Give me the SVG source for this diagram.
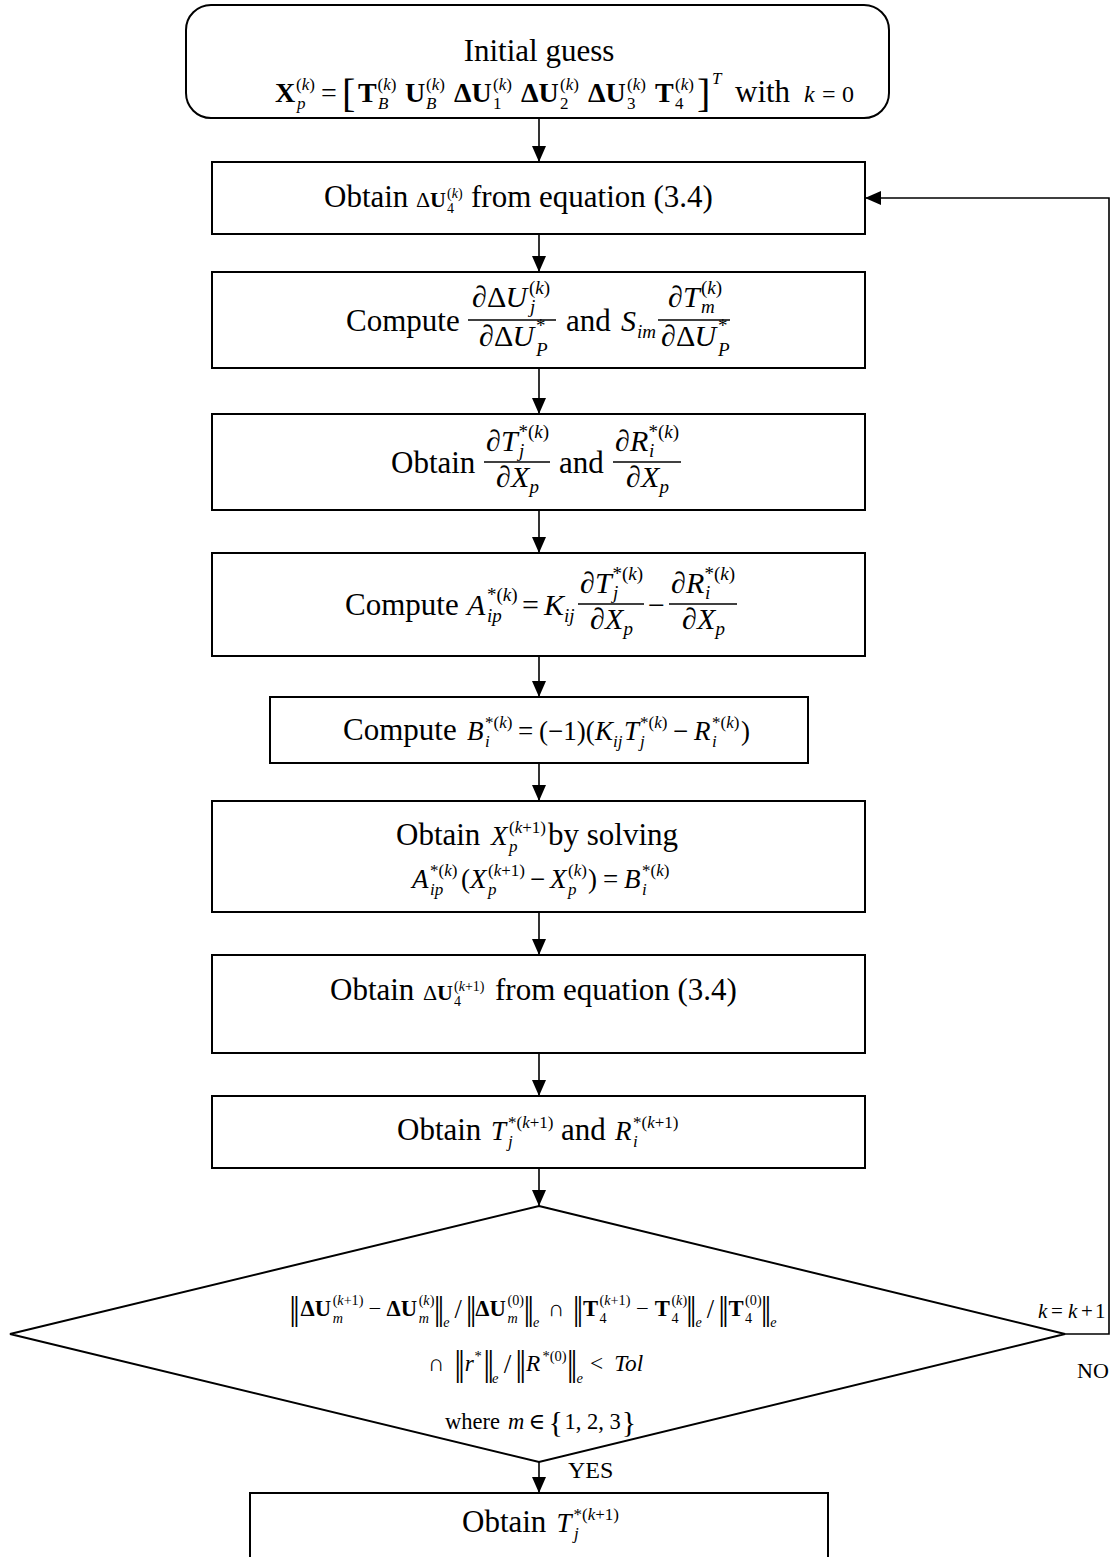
<svg xmlns="http://www.w3.org/2000/svg" width="1117" height="1557" viewBox="0 0 1117 1557" font-family="Liberation Serif, serif">
<style>
text{font-family:"Liberation Serif","DejaVu Serif",serif;fill:#000}
.box{fill:#fff;stroke:#000;stroke-width:2}
.edge{fill:none;stroke:#000;stroke-width:1.6}
.bar{fill:none;stroke:#000;stroke-width:1.3}
.i{font-style:italic}
.n{font-style:normal}
.b{font-weight:bold}
.s40{font-size:40px}.s36{font-size:36px}.s32{font-size:32px}.s31{font-size:31px}.s30{font-size:30px}
.s28{font-size:28px}.s27{font-size:27px}.s24{font-size:24px}.s22{font-size:22px}.s21{font-size:21px}
.s19{font-size:19px}.s17{font-size:17px}.s15{font-size:15px}.s14{font-size:14px}
</style>
<defs>
<marker id="ah" markerWidth="16" markerHeight="14" refX="16" refY="7" orient="auto" markerUnits="userSpaceOnUse">
<path d="M0,0 L16,7 L0,14 z" fill="#000"/>
</marker>
</defs>

<!-- connectors -->
<g id="edges">
<line class="edge" x1="539" y1="118" x2="539" y2="162" marker-end="url(#ah)"/>
<line class="edge" x1="539" y1="234" x2="539" y2="272" marker-end="url(#ah)"/>
<line class="edge" x1="539" y1="368" x2="539" y2="414" marker-end="url(#ah)"/>
<line class="edge" x1="539" y1="510" x2="539" y2="553" marker-end="url(#ah)"/>
<line class="edge" x1="539" y1="656" x2="539" y2="697" marker-end="url(#ah)"/>
<line class="edge" x1="539" y1="763" x2="539" y2="801" marker-end="url(#ah)"/>
<line class="edge" x1="539" y1="912" x2="539" y2="955" marker-end="url(#ah)"/>
<line class="edge" x1="539" y1="1053" x2="539" y2="1096" marker-end="url(#ah)"/>
<line class="edge" x1="539" y1="1168" x2="539" y2="1206" marker-end="url(#ah)"/>
<line class="edge" x1="539" y1="1462" x2="539" y2="1493" marker-end="url(#ah)"/>
<path class="edge" d="M1065,1334 H1109 V198 H865" marker-end="url(#ah)"/>
<text class="s24" x="568" y="1478">YES</text>
<text class="s22" x="1077" y="1378">NO</text>
<text class="s21"><tspan class="i" x="1038" y="1318">k</tspan><tspan x="1051" y="1318">=</tspan><tspan class="i" x="1068" y="1318">k</tspan><tspan x="1081" y="1318">+</tspan><tspan x="1095" y="1318">1</tspan></text>
</g>

<!-- initial guess -->
<g id="n-start">
<rect class="box" x="186" y="5" width="703" height="113" rx="25"/>
<text class="s31" x="539" y="61" text-anchor="middle">Initial guess</text>
<text class="s28">
<tspan class="b" x="275" y="102">X</tspan>
<tspan class="s17" x="296" y="90">(<tspan class="i">k</tspan>)</tspan>
<tspan class="s17 i" x="297" y="109">p</tspan>
<tspan x="321" y="102">=</tspan>
<tspan class="s40" x="342" y="107">[</tspan>
<tspan class="b" x="358" y="102">T</tspan>
<tspan class="s17" x="377.5" y="90">(<tspan class="i">k</tspan>)</tspan>
<tspan class="s17 i" x="378" y="109">B</tspan>
<tspan class="b" x="405" y="102">U</tspan>
<tspan class="s17" x="426" y="90">(<tspan class="i">k</tspan>)</tspan>
<tspan class="s17 i" x="426" y="109">B</tspan>
<tspan class="b" x="454" y="102">ΔU</tspan>
<tspan class="s17" x="493" y="90">(<tspan class="i">k</tspan>)</tspan>
<tspan class="s17" x="493" y="109">1</tspan>
<tspan class="b" x="521" y="102">ΔU</tspan>
<tspan class="s17" x="560" y="90">(<tspan class="i">k</tspan>)</tspan>
<tspan class="s17" x="560" y="109">2</tspan>
<tspan class="b" x="588" y="102">ΔU</tspan>
<tspan class="s17" x="627" y="90">(<tspan class="i">k</tspan>)</tspan>
<tspan class="s17" x="627" y="109">3</tspan>
<tspan class="b" x="655" y="102">T</tspan>
<tspan class="s17" x="675" y="90">(<tspan class="i">k</tspan>)</tspan>
<tspan class="s17" x="675" y="109">4</tspan>
<tspan class="s40" x="697" y="107">]</tspan>
<tspan class="s17 i" x="712" y="84">T</tspan>
<tspan class="s31" x="735" y="102">with</tspan>
<tspan class="s24 i" x="804" y="102">k</tspan>
<tspan class="s24" x="822" y="102">=</tspan>
<tspan class="s24" x="842" y="102">0</tspan>
</text>
</g>

<!-- obtain delta U4 -->
<g id="n-obtain-du4">
<rect class="box" x="212" y="162" width="653" height="72"/>
<text class="s31" x="324" y="207">Obtain</text>
<text class="s22">
<tspan x="416" y="207">Δ</tspan><tspan class="b" x="430" y="207">U</tspan>
<tspan class="s14" x="447" y="198">(<tspan class="i">k</tspan>)</tspan>
<tspan class="s14" x="447" y="213">4</tspan>
</text>
<text class="s31" x="471" y="207">from equation (3.4)</text>
</g>

<!-- sensitivities -->
<g id="n-sens">
<rect class="box" x="212" y="272" width="653" height="96"/>
<text class="s31" x="346" y="331">Compute</text>
<text class="s31" x="566" y="331">and</text>
<line class="bar" x1="468" y1="320" x2="556" y2="320"/>
<line class="bar" x1="658" y1="320" x2="730" y2="320"/>
<text class="s30 i">
<tspan x="472" y="307">∂</tspan><tspan class="n" x="487" y="307">Δ</tspan><tspan x="505.5" y="307">U</tspan>
<tspan class="s19" x="529" y="294"><tspan class="n">(</tspan>k<tspan class="n">)</tspan></tspan>
<tspan class="s19" x="530" y="313">j</tspan>
<tspan x="479" y="346">∂</tspan><tspan class="n" x="494" y="346">Δ</tspan><tspan x="512.5" y="346">U</tspan>
<tspan class="s19 n" x="536" y="332">*</tspan><tspan class="s19" x="536" y="356">P</tspan>
<tspan x="621" y="331">S</tspan><tspan class="s19" x="637" y="338">im</tspan>
<tspan x="668" y="307">∂</tspan><tspan x="683" y="307">T</tspan>
<tspan class="s19" x="701" y="294"><tspan class="n">(</tspan>k<tspan class="n">)</tspan></tspan>
<tspan class="s19" x="701" y="313">m</tspan>
<tspan x="661" y="346">∂</tspan><tspan class="n" x="676" y="346">Δ</tspan><tspan x="694.5" y="346">U</tspan>
<tspan class="s19 n" x="718" y="332">*</tspan><tspan class="s19" x="718" y="356">P</tspan>
</text>
</g>

<!-- derivatives of T and R -->
<g id="n-deriv">
<rect class="box" x="212" y="414" width="653" height="96"/>
<text class="s31" x="391" y="473">Obtain</text>
<text class="s31" x="559" y="473">and</text>
<line class="bar" x1="484" y1="462" x2="550" y2="462"/>
<line class="bar" x1="613" y1="462" x2="681" y2="462"/>
<text class="s30 i">
<tspan x="486" y="451">∂</tspan><tspan x="501" y="451">T</tspan>
<tspan class="s19" x="518.5" y="438"><tspan class="n">*(</tspan>k<tspan class="n">)</tspan></tspan>
<tspan class="s19" x="519" y="457">j</tspan>
<tspan x="496" y="487">∂</tspan><tspan x="511" y="487">X</tspan><tspan class="s19" x="529.5" y="493">p</tspan>
<tspan x="615" y="451">∂</tspan><tspan x="630" y="451">R</tspan>
<tspan class="s19" x="648.5" y="438"><tspan class="n">*(</tspan>k<tspan class="n">)</tspan></tspan>
<tspan class="s19" x="649" y="457">i</tspan>
<tspan x="626" y="487">∂</tspan><tspan x="641" y="487">X</tspan><tspan class="s19" x="659.5" y="493">p</tspan>
</text>
</g>

<!-- matrix A -->
<g id="n-amatrix">
<rect class="box" x="212" y="553" width="653" height="103"/>
<text class="s31" x="345" y="615">Compute</text>
<line class="bar" x1="578" y1="604" x2="644" y2="604"/>
<line class="bar" x1="669" y1="604" x2="737" y2="604"/>
<text class="s30 i">
<tspan x="467" y="615">A</tspan>
<tspan class="s19" x="487" y="601"><tspan class="n">*(</tspan>k<tspan class="n">)</tspan></tspan>
<tspan class="s19" x="487" y="622">ip</tspan>
<tspan class="n" x="522" y="615">=</tspan>
<tspan x="544" y="615">K</tspan><tspan class="s19" x="564" y="622">ij</tspan>
<tspan x="580" y="593">∂</tspan><tspan x="595" y="593">T</tspan>
<tspan class="s19" x="612.5" y="580"><tspan class="n">*(</tspan>k<tspan class="n">)</tspan></tspan>
<tspan class="s19" x="613" y="599">j</tspan>
<tspan x="590" y="629">∂</tspan><tspan x="605" y="629">X</tspan><tspan class="s19" x="623.5" y="635">p</tspan>
<tspan class="n" x="648" y="615">−</tspan>
<tspan x="671" y="593">∂</tspan><tspan x="686" y="593">R</tspan>
<tspan class="s19" x="704.5" y="580"><tspan class="n">*(</tspan>k<tspan class="n">)</tspan></tspan>
<tspan class="s19" x="705" y="599">i</tspan>
<tspan x="682" y="629">∂</tspan><tspan x="697" y="629">X</tspan><tspan class="s19" x="715.5" y="635">p</tspan>
</text>
</g>

<!-- vector B -->
<g id="n-bvector">
<rect class="box" x="270" y="697" width="538" height="66"/>
<text class="s31" x="343" y="740">Compute</text>
<text class="s27 i">
<tspan x="467" y="740">B</tspan>
<tspan class="s17" x="485" y="728"><tspan class="n">*(</tspan>k<tspan class="n">)</tspan></tspan>
<tspan class="s17" x="485" y="747">i</tspan>
<tspan class="n" x="518" y="740">=</tspan>
<tspan class="n" x="539" y="740">(−1)(</tspan>
<tspan x="595" y="740">K</tspan><tspan class="s17" x="613" y="747">ij</tspan>
<tspan x="624" y="740">T</tspan>
<tspan class="s17" x="640" y="728"><tspan class="n">*(</tspan>k<tspan class="n">)</tspan></tspan>
<tspan class="s17" x="640" y="747">j</tspan>
<tspan class="n" x="673" y="740">−</tspan>
<tspan x="694" y="740">R</tspan>
<tspan class="s17" x="712" y="728"><tspan class="n">*(</tspan>k<tspan class="n">)</tspan></tspan>
<tspan class="s17" x="712" y="747">i</tspan>
<tspan class="n" x="741" y="740">)</tspan>
</text>
</g>

<!-- solve for X -->
<g id="n-solve">
<rect class="box" x="212" y="801" width="653" height="111"/>
<text class="s31" x="396" y="845">Obtain</text>
<text class="s31" x="548" y="845">by solving</text>
<text class="s27 i">
<tspan x="491" y="845">X</tspan>
<tspan class="s17" x="509" y="833"><tspan class="n">(</tspan>k<tspan class="n">+1)</tspan></tspan>
<tspan class="s17" x="509" y="852">p</tspan>
<tspan x="412" y="888">A</tspan>
<tspan class="s17" x="430" y="876"><tspan class="n">*(</tspan>k<tspan class="n">)</tspan></tspan>
<tspan class="s17" x="430" y="895">ip</tspan>
<tspan class="n" x="461" y="888">(</tspan>
<tspan x="470" y="888">X</tspan>
<tspan class="s17" x="488" y="876"><tspan class="n">(</tspan>k<tspan class="n">+1)</tspan></tspan>
<tspan class="s17" x="488" y="895">p</tspan>
<tspan class="n" x="530" y="888">−</tspan>
<tspan x="550" y="888">X</tspan>
<tspan class="s17" x="568" y="876"><tspan class="n">(</tspan>k<tspan class="n">)</tspan></tspan>
<tspan class="s17" x="568" y="895">p</tspan>
<tspan class="n" x="588" y="888">)</tspan>
<tspan class="n" x="603" y="888">=</tspan>
<tspan x="624" y="888">B</tspan>
<tspan class="s17" x="642" y="876"><tspan class="n">*(</tspan>k<tspan class="n">)</tspan></tspan>
<tspan class="s17" x="642" y="895">i</tspan>
</text>
</g>

<!-- update delta U4 -->
<g id="n-update-du4">
<rect class="box" x="212" y="955" width="653" height="98"/>
<text class="s31" x="330" y="1000">Obtain</text>
<text class="s22">
<tspan x="423" y="1000">Δ</tspan><tspan class="b" x="437" y="1000">U</tspan>
<tspan class="s14" x="454" y="991">(<tspan class="i">k</tspan>+1)</tspan>
<tspan class="s14" x="454" y="1006">4</tspan>
</text>
<text class="s31" x="495" y="1000">from equation (3.4)</text>
</g>

<!-- update T and R -->
<g id="n-update-tr">
<rect class="box" x="212" y="1096" width="653" height="72"/>
<text class="s31" x="397" y="1140">Obtain</text>
<text class="s31" x="561" y="1140">and</text>
<text class="s27 i">
<tspan x="491" y="1140">T</tspan>
<tspan class="s17" x="508" y="1128"><tspan class="n">*(</tspan>k<tspan class="n">+1)</tspan></tspan>
<tspan class="s17" x="508" y="1147">j</tspan>
<tspan x="615" y="1140">R</tspan>
<tspan class="s17" x="633" y="1128"><tspan class="n">*(</tspan>k<tspan class="n">+1)</tspan></tspan>
<tspan class="s17" x="633" y="1147">i</tspan>
</text>
</g>

<!-- convergence test -->
<g id="n-converge">
<polygon class="box" points="539,1206 1065,1334 539,1462 10,1334"/>
<g transform="translate(292,1316) scale(0.945)">
<text class="s36"><tspan x="-3" y="4">|</tspan><tspan x="1" y="4">|</tspan><tspan x="150" y="4">|</tspan><tspan x="154" y="4">|</tspan><tspan x="184" y="4">|</tspan><tspan x="188" y="4">|</tspan><tspan x="245" y="4">|</tspan><tspan x="249" y="4">|</tspan><tspan x="297" y="4">|</tspan><tspan x="301" y="4">|</tspan><tspan x="417" y="4">|</tspan><tspan x="421" y="4">|</tspan><tspan x="451" y="4">|</tspan><tspan x="455" y="4">|</tspan><tspan x="496" y="4">|</tspan><tspan x="500" y="4">|</tspan></text>
<text class="s24">
<tspan class="b" x="9" y="0">ΔU</tspan>
<tspan class="s15" x="43" y="-12">(<tspan class="i">k</tspan>+1)</tspan>
<tspan class="s15 i" x="43" y="7">m</tspan>
<tspan x="81" y="0">−</tspan>
<tspan class="b" x="100" y="0">ΔU</tspan>
<tspan class="s15" x="134" y="-12">(<tspan class="i">k</tspan>)</tspan>
<tspan class="s15 i" x="134" y="7">m</tspan>
<tspan class="s15 i" x="160" y="12">e</tspan>
<tspan class="s28" x="172" y="2">/</tspan>
<tspan class="b" x="194" y="0">ΔU</tspan>
<tspan class="s15" x="228" y="-12">(0)</tspan>
<tspan class="s15 i" x="228" y="7">m</tspan>
<tspan class="s15 i" x="255" y="12">e</tspan>
<tspan x="271" y="0">∩</tspan>
<tspan class="b" x="308" y="0">T</tspan>
<tspan class="s15" x="325.5" y="-12">(<tspan class="i">k</tspan>+1)</tspan>
<tspan class="s15" x="325.5" y="7">4</tspan>
<tspan x="364" y="0">−</tspan>
<tspan class="b" x="384" y="0">T</tspan>
<tspan class="s15" x="401.5" y="-12">(<tspan class="i">k</tspan>)</tspan>
<tspan class="s15" x="401.5" y="7">4</tspan>
<tspan class="s15 i" x="427" y="12">e</tspan>
<tspan class="s28" x="439" y="2">/</tspan>
<tspan class="b" x="462" y="0">T</tspan>
<tspan class="s15" x="479.5" y="-12">(0)</tspan>
<tspan class="s15" x="479.5" y="7">4</tspan>
<tspan class="s15 i" x="506" y="12">e</tspan>
</text>
</g>
<g transform="translate(428,1371) scale(0.97)">
<text class="s36"><tspan x="27" y="4">|</tspan><tspan x="31" y="4">|</tspan><tspan x="57" y="4">|</tspan><tspan x="61" y="4">|</tspan><tspan x="90" y="4">|</tspan><tspan x="94" y="4">|</tspan><tspan x="143" y="4">|</tspan><tspan x="147" y="4">|</tspan></text>
<text class="s24">
<tspan x="0" y="0">∩</tspan>
<tspan class="i" x="38" y="0">r</tspan>
<tspan class="s15" x="48" y="-10">*</tspan>
<tspan class="s15 i" x="66" y="12">e</tspan>
<tspan class="s28" x="78" y="2">/</tspan>
<tspan class="i" x="101" y="0">R</tspan>
<tspan class="s15" x="118" y="-10">*(0)</tspan>
<tspan class="s15 i" x="153" y="12">e</tspan>
<tspan x="167" y="0">&lt;</tspan>
<tspan class="i" x="192" y="0">Tol</tspan>
</text>
</g>
<g transform="translate(445,1429) scale(0.94)">
<text class="s24">
<tspan x="0" y="0">where</tspan>
<tspan class="i" x="67" y="0">m</tspan>
<tspan x="89" y="0">∈</tspan>
<tspan class="s32" x="110" y="3">{</tspan>
<tspan x="127" y="0">1, 2, 3</tspan>
<tspan class="s32" x="188" y="3">}</tspan>
</text>
</g>
</g>

<!-- final result -->
<g id="n-end">
<rect class="box" x="250" y="1493" width="578" height="90"/>
<text class="s31" x="462" y="1532">Obtain</text>
<text class="s27 i">
<tspan x="556.5" y="1532">T</tspan>
<tspan class="s17" x="573.5" y="1520"><tspan class="n">*(</tspan>k<tspan class="n">+1)</tspan></tspan>
<tspan class="s17" x="574" y="1539">j</tspan>
</text>
</g>
</svg>
